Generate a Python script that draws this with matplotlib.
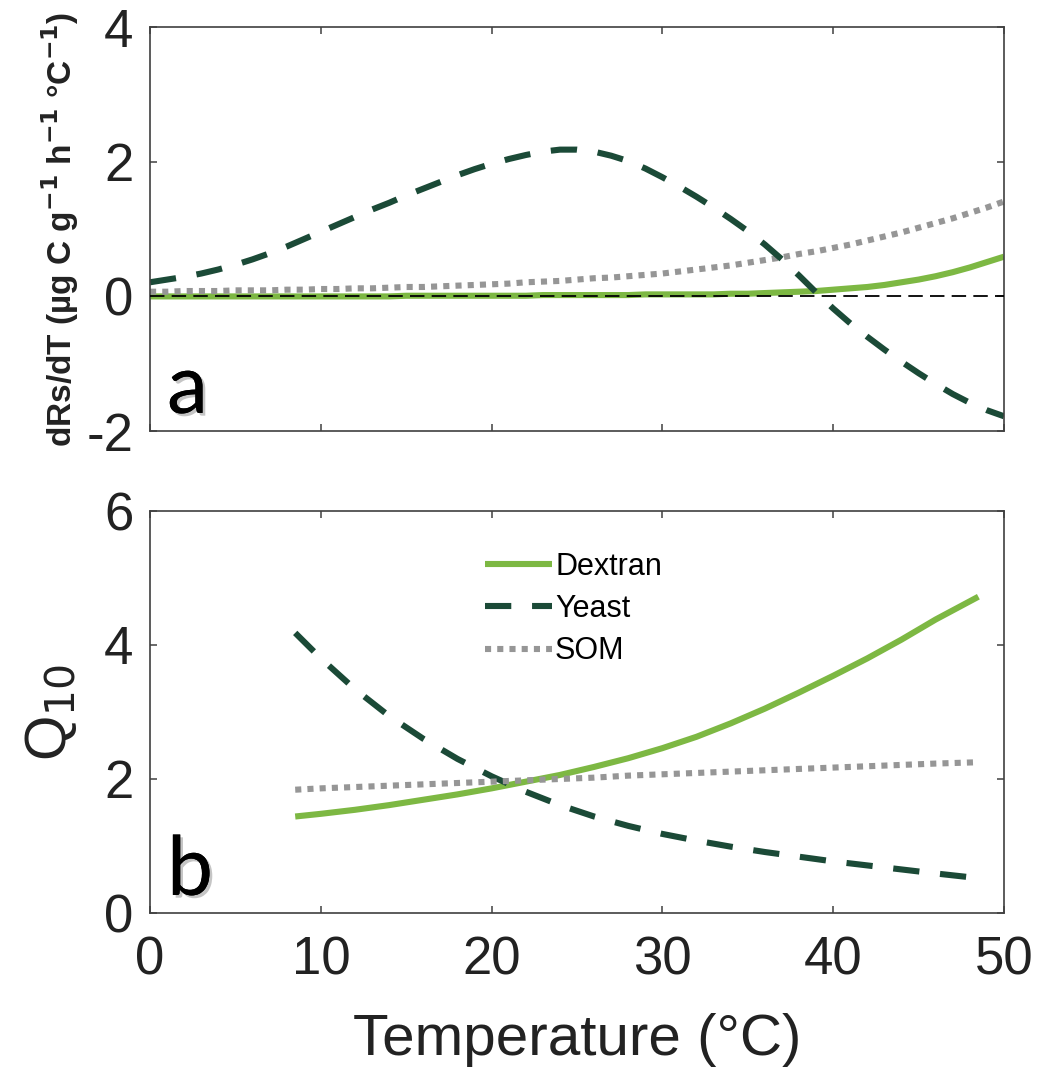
import numpy as np
import matplotlib
matplotlib.use("Agg")
import matplotlib.pyplot as plt
import matplotlib.patheffects as pe

plt.rcParams['font.family'] = ['Liberation Sans', 'DejaVu Sans']
plt.rcParams['axes.unicode_minus'] = False

# Panel a: temperature sensitivity of respiration, dRs/dT
temp_a = list(range(0, 51))
yeast_a = [0.21, 0.25, 0.29, 0.34, 0.40, 0.47, 0.55, 0.64, 0.74, 0.85, 0.96,
           1.07, 1.18, 1.29, 1.39, 1.50, 1.60, 1.70, 1.80, 1.89, 1.97, 2.04,
           2.10, 2.15, 2.18, 2.18, 2.15, 2.09, 2.01, 1.90, 1.77, 1.63, 1.48,
           1.32, 1.15, 0.97, 0.77, 0.55, 0.31, 0.06, -0.18, -0.40, -0.60,
           -0.79, -0.97, -1.14, -1.30, -1.45, -1.58, -1.69, -1.78]
dextran_a = [0.0, 0.0, 0.0, 0.0, 0.0, 0.0, 0.0, 0.0, 0.0, 0.0, 0.0,
             0.0, 0.0, 0.0, 0.0, 0.01, 0.01, 0.01, 0.01, 0.01, 0.01, 0.01,
             0.01, 0.02, 0.02, 0.02, 0.02, 0.02, 0.02, 0.03, 0.03, 0.03, 0.03,
             0.03, 0.04, 0.04, 0.05, 0.06, 0.07, 0.08, 0.10, 0.12, 0.14,
             0.17, 0.21, 0.25, 0.30, 0.36, 0.43, 0.51, 0.59]
som_a = [0.07, 0.07, 0.08, 0.08, 0.08, 0.09, 0.09, 0.09, 0.10, 0.10, 0.11,
         0.11, 0.12, 0.12, 0.13, 0.14, 0.14, 0.15, 0.16, 0.17, 0.18, 0.19,
         0.21, 0.22, 0.23, 0.25, 0.27, 0.28, 0.30, 0.32, 0.34, 0.37, 0.40,
         0.43, 0.46, 0.50, 0.54, 0.58, 0.63, 0.67, 0.72, 0.77, 0.83, 0.89,
         0.95, 1.02, 1.09, 1.16, 1.24, 1.32, 1.41]

# Panel b: Q10
temp_b = [8.5, 10, 12, 14, 16, 18, 20, 22, 24, 26, 28, 30, 32, 34, 36, 38,
          40, 42, 44, 46, 48.5]
dextran_b = [1.44, 1.48, 1.54, 1.61, 1.69, 1.77, 1.86, 1.96, 2.06, 2.18, 2.31,
             2.46, 2.63, 2.83, 3.05, 3.29, 3.54, 3.80, 4.08, 4.38, 4.72]
yeast_b = [4.18, 3.80, 3.34, 2.94, 2.60, 2.30, 2.04, 1.81, 1.61, 1.44, 1.30,
           1.18, 1.08, 0.99, 0.91, 0.84, 0.77, 0.71, 0.65, 0.59, 0.52]
som_b = [1.84, 1.86, 1.88, 1.90, 1.92, 1.94, 1.96, 1.98, 2.00, 2.02, 2.05,
         2.07, 2.09, 2.11, 2.13, 2.15, 2.17, 2.19, 2.21, 2.23, 2.25]

c_dextran = '#7db843'
c_yeast = '#1b4a37'
c_som = '#969696'
lw = 4.4

fig = plt.figure(figsize=(10.39, 10.75), dpi=100)
ax_a = fig.add_axes([0.1444, 0.599, 0.8219, 0.3758])
ax_b = fig.add_axes([0.1444, 0.1507, 0.8219, 0.374])


def style_axes(ax):
    ax.set_xlim(0, 50)
    ax.set_xticks([0, 10, 20, 30, 40, 50])
    ax.tick_params(direction='in', length=5, width=1.1, color='#404040',
                   top=True, right=True, labelsize=38, pad=12,
                   labelcolor='#222222')
    for s in ax.spines.values():
        s.set_color('#404040')
        s.set_linewidth(1.2)


def panel_letter(ax, letter):
    ax.text(0.02, 0.045, letter, transform=ax.transAxes, family='Lato',
            fontsize=59, ha='left', va='baseline',
            path_effects=[pe.withSimplePatchShadow(offset=(2, -2),
                                                   shadow_rgbFace='gray',
                                                   alpha=0.45),
                          pe.Normal()])


# panel a
ax_a.plot(temp_a, dextran_a, color=c_dextran, lw=lw, solid_capstyle='butt')
ax_a.plot(temp_a, som_a, color=c_som, lw=lw, linestyle=(0, (1, 1)))
ax_a.plot(temp_a, yeast_a, color=c_yeast, lw=lw, linestyle=(0, (4.3, 3.4)))
ax_a.axhline(0, color='black', lw=1.3, linestyle=(0, (8, 4)), zorder=5)
style_axes(ax_a)
ax_a.set_ylim(-2, 4)
ax_a.set_yticks([-2, 0, 2, 4])
ax_a.set_xticklabels([])
ax_a.set_ylabel('dRs/dT (µg C g$^{\\mathbf{-1}}$ h$^{\\mathbf{-1}}$ °C$^{\\mathbf{-1}}$)',
                fontsize=24, fontweight='bold', labelpad=4, color='#222222')
panel_letter(ax_a, 'a')

# panel b
ax_b.plot(temp_b, dextran_b, color=c_dextran, lw=lw, label='Dextran',
          solid_capstyle='butt')
ax_b.plot(temp_b, yeast_b, color=c_yeast, lw=lw, linestyle=(0, (4.3, 3.4)),
          label='Yeast')
ax_b.plot(temp_b, som_b, color=c_som, lw=lw, linestyle=(0, (1, 1)),
          label='SOM')
style_axes(ax_b)
ax_b.tick_params(axis='x', pad=16)
ax_b.set_ylim(0, 6)
ax_b.set_yticks([0, 2, 4, 6])
ax_b.set_xlabel('Temperature (°C)', fontsize=42, labelpad=20, color='#222222')
ax_b.set_ylabel('Q$_{10}$', fontsize=42, labelpad=18, color='#222222')
ax_b.legend(loc='upper left', bbox_to_anchor=(0.392, 0.898), frameon=False,
            fontsize=22, handlelength=2.2, handletextpad=0.1,
            labelspacing=0.4, borderpad=0, borderaxespad=0)
panel_letter(ax_b, 'b')

fig.savefig('out.png', dpi=100)
